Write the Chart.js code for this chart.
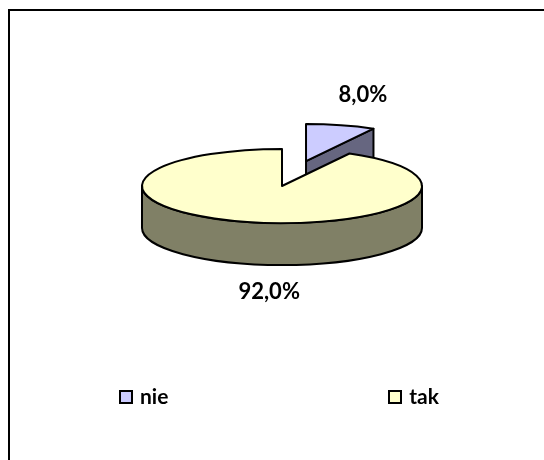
<!DOCTYPE html>
<html>
<head>
<meta charset="utf-8">
<title>nie / tak</title>
<script src="https://cdn.jsdelivr.net/npm/chart.js@4.4.0/dist/chart.umd.min.js"></script>
<style>
  html, body { margin: 0; padding: 0; background: #fff; width: 544px; height: 460px; overflow: hidden; }
  #frame { position: absolute; left: 8px; top: 9px; width: 600px; height: 500px; border: 2.5px solid #000; }
  #pieChart { position: absolute; left: 0; top: 0; }
  #legend {
    position: absolute; left: 119px; top: 386px; width: 320px;
    display: flex; justify-content: space-between;
    font: bold 21px Lato, "Open Sans", sans-serif; color: #000;
  }
  #legend .item { display: flex; align-items: center; line-height: 20px; }
  #legend .box { width: 14px; height: 14px; box-sizing: border-box; border: 2.5px solid #000; margin-right: 7px; margin-top: 2px; }
</style>
</head>
<body>
<div id="frame"></div>
<canvas id="pieChart" width="544" height="460"></canvas>
<div id="legend"></div>

<script>
// ============================================================
// Data
// ============================================================
const categories = ["nie", "tak"];
const shares = [8.0, 92.0];
const topColors = ["#CCCCFF", "#FFFFCC"];
const sideColors = ["#666680", "#808066"];

// 3D look (Excel style pie): squash, thickness, exploded slice
const view = {
  cy: 186,
  tilt: 0.265,
  depth: 42,
  explode: [0.69, 0],
  line: 2,
  labelDx: 22,
  labelDy: 29,
};

const fmt = (v) => v.toFixed(1).replace(".", ",") + "%";

// ============================================================
// Draw one slice: cut faces, front wall, then the library's arc squashed
// ============================================================
function drawSlice(ctx, s) {
  const { arc, x, y, rx, ry } = s;
  const a0 = arc.startAngle;
  const a1 = arc.endAngle;
  const d = view.depth;
  const side = sideColors[s.i];

  ctx.save();
  ctx.lineWidth = view.line;
  ctx.strokeStyle = "#000";
  ctx.lineJoin = "round";

  // cut faces turned toward the viewer
  [[a0, Math.cos(a0) < -1e-6], [a1, Math.cos(a1) > 1e-6]].forEach(([a, visible]) => {
    if (!visible) return;
    const ex = x + Math.cos(a) * rx;
    const ey = y + Math.sin(a) * ry;
    ctx.beginPath();
    ctx.moveTo(x, y);
    ctx.lineTo(ex, ey);
    ctx.lineTo(ex, ey + d);
    ctx.lineTo(x, y + d);
    ctx.closePath();
    ctx.fillStyle = side;
    ctx.fill();
    ctx.stroke();
  });

  // outer wall, front half only
  for (let k = -2; k <= 2; k += 2) {
    const lo = Math.max(a0, k * Math.PI);
    const hi = Math.min(a1, (k + 1) * Math.PI);
    if (hi <= lo) continue;
    ctx.beginPath();
    ctx.ellipse(x, y, rx, ry, 0, lo, hi);
    ctx.lineTo(x + Math.cos(hi) * rx, y + Math.sin(hi) * ry + d);
    ctx.ellipse(x, y + d, rx, ry, 0, hi, lo, true);
    ctx.closePath();
    ctx.fillStyle = side;
    ctx.fill();
    ctx.stroke();
  }

  // top face
  ctx.save();
  ctx.translate(x, y);
  ctx.scale(1, view.tilt);
  ctx.translate(-arc.x, -arc.y);
  arc.draw(ctx);
  ctx.restore();

  ctx.beginPath();
  ctx.moveTo(x, y);
  ctx.ellipse(x, y, rx, ry, 0, a0, a1);
  ctx.closePath();
  ctx.stroke();
  ctx.restore();
}

const pie3d = {
  id: "pie3d",
  beforeDatasetsDraw(chart) {
    const slices = chart.getDatasetMeta(0).data.map((arc, i) => {
      const mid = (arc.startAngle + arc.endAngle) / 2;
      const shift = arc.outerRadius * view.explode[i];
      return {
        arc, i, mid,
        x: arc.x + Math.cos(mid) * shift,
        y: view.cy + Math.sin(mid) * shift * view.tilt,
        rx: arc.outerRadius,
        ry: arc.outerRadius * view.tilt,
      };
    });
    chart.$slices = slices;
    // back slices first
    slices.slice()
      .sort((a, b) => Math.sin(a.mid) - Math.sin(b.mid))
      .forEach((s) => drawSlice(chart.ctx, s));
    return false;
  },
  afterDraw(chart) {
    const ctx = chart.ctx;
    ctx.save();
    ctx.font = "bold 22px Lato";
    ctx.fillStyle = "#000";
    ctx.textAlign = "center";
    ctx.textBaseline = "middle";
    (chart.$slices || []).forEach((s) => {
      const front = Math.sin(s.mid) > 0;
      const ax = s.x + Math.cos(s.mid) * s.rx;
      const ay = s.y + Math.sin(s.mid) * s.ry + (front ? view.depth : 0);
      ctx.fillText(fmt(shares[s.i]), ax + view.labelDx, ay + (front ? view.labelDy : -view.labelDy) - 1);
    });
    ctx.restore();
  },
};

// ============================================================
// Legend
// ============================================================
function renderLegend() {
  const legend = document.getElementById("legend");
  legend.innerHTML = categories
    .map((c, i) => `<div class="item"><span class="box" style="background:${topColors[i]}"></span>${c}</div>`)
    .join("");
}

// ============================================================
// Chart
// ============================================================
function renderChart() {
  const ctx = document.getElementById("pieChart");
  new Chart(ctx, {
    type: "pie",
    data: {
      labels: categories,
      datasets: [
        {
          data: shares,
          backgroundColor: topColors,
          borderWidth: 0,
          clip: false,
        },
      ],
    },
    options: {
      responsive: false,
      animation: false,
      events: [],
      radius: 140,
      layout: { padding: { left: 20, right: 0, top: 0, bottom: 0 } },
      plugins: {
        legend: { display: false },
        tooltip: { enabled: false },
      },
    },
    plugins: [pie3d],
  });
}

document.fonts.load("bold 22px Lato").finally(() => {
  renderLegend();
  renderChart();
});
</script>
</body>
</html>
